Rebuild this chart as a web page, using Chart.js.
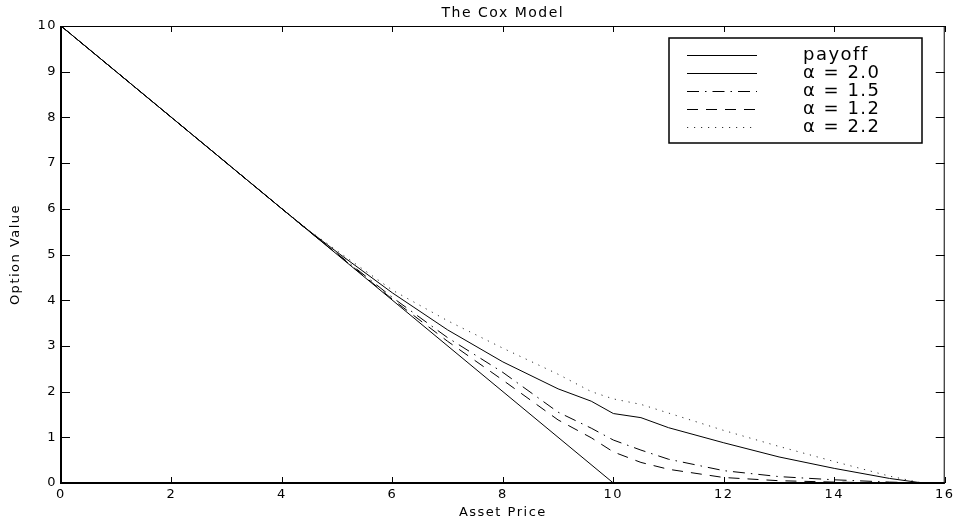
<!DOCTYPE html>
<html>
<head>
<meta charset="utf-8">
<title>The Cox Model</title>
<script src="https://cdn.jsdelivr.net/npm/chart.js@4.4.1/dist/chart.umd.min.js"></script>
<style>
  html, body { margin: 0; padding: 0; background: #fff; }
  #wrap { width: 957px; height: 521px; }
</style>
</head>
<body>
<div id="wrap"><canvas id="chart"></canvas></div>
<script>
// Valores leidos a ojo del grafico original (precio del activo vs valor de la opcion)
const TITLE = "The Cox Model";
const X_LABEL = "Asset Price";
const Y_LABEL = "Option Value";

const xTicks = [0, 2, 4, 6, 8, 10, 12, 14, 16];
const yTicks = [0, 1, 2, 3, 4, 5, 6, 7, 8, 9, 10];

const payoffPrice = [0, 10, 16];
const payoffValue = [10, 0, 0];

const price   = [0, 4, 4.5, 5, 6, 7, 8, 9, 9.6, 10, 10.5, 11, 12, 13, 14, 15, 15.6];
const alpha20 = [10, 6, 5.51, 5.05, 4.16, 3.35, 2.65, 2.06, 1.79, 1.52, 1.43, 1.21, 0.88, 0.57, 0.32, 0.1, 0];
const alpha15 = [10, 6, 5.5, 5.02, 4.06, 3.18, 2.42, 1.55, 1.2, 0.94, 0.72, 0.52, 0.27, 0.14, 0.07, 0.02, 0];
const alpha12 = [10, 6, 5.5, 5.01, 4.02, 3.1, 2.25, 1.38, 0.99, 0.68, 0.45, 0.3, 0.12, 0.05, 0.02, 0, 0];
const alpha22 = [10, 6, 5.52, 5.08, 4.22, 3.55, 2.95, 2.38, 2.0, 1.84, 1.72, 1.53, 1.15, 0.8, 0.47, 0.15, 0];

const labels = ["payoff", "\u03b1 = 2.0", "\u03b1 = 1.5", "\u03b1 = 1.2", "\u03b1 = 2.2"];

const FONT = "'DejaVu Sans', 'Liberation Sans', sans-serif";
const pts = (xs, ys) => xs.map((x, i) => ({ x, y: ys[i] }));

// estilos de linea tipo matlab
const STYLES = [
  { dash: [], color: "#000" },
  { dash: [], color: "#000" },
  { dash: [12, 6, 1.5, 6], color: "#000" },
  { dash: [11, 8], color: "#000" },
  { dash: [1.2, 5.8], color: "#333" },
];

const series = [
  pts(payoffPrice, payoffValue),
  pts(price, alpha20),
  pts(price, alpha15),
  pts(price, alpha12),
  pts(price, alpha22),
];

// marco, ticks hacia dentro, titulo y leyenda
const frame = {
  id: "frame",
  beforeDraw(chart) {
    chart.ctx.letterSpacing = "1.5px";
  },
  afterDatasetsDraw(chart) {
    const { ctx, chartArea: a, scales } = chart;
    ctx.save();
    ctx.strokeStyle = "#000";
    ctx.lineWidth = 1;
    ctx.beginPath();
    ctx.moveTo(a.left, a.top + 0.5);
    ctx.lineTo(a.right, a.top + 0.5);
    ctx.moveTo(a.right - 0.5, a.top);
    ctx.lineTo(a.right - 0.5, a.bottom);
    xTicks.forEach((v) => {
      const px = Math.round(scales.x.getPixelForValue(v)) + 0.5;
      ctx.moveTo(px, a.bottom); ctx.lineTo(px, a.bottom - 6);
      ctx.moveTo(px, a.top); ctx.lineTo(px, a.top + 6);
    });
    yTicks.forEach((v) => {
      const py = Math.round(scales.y.getPixelForValue(v)) + 0.5;
      ctx.moveTo(a.left, py); ctx.lineTo(a.left + 9, py);
      ctx.moveTo(a.right, py); ctx.lineTo(a.right - 9, py);
    });
    ctx.stroke();
    ctx.lineWidth = 2;
    ctx.beginPath();
    ctx.moveTo(a.left, a.top);
    ctx.lineTo(a.left, a.bottom);
    ctx.lineTo(a.right, a.bottom);
    ctx.stroke();

    // titulo
    ctx.fillStyle = "#000";
    ctx.font = "14px " + FONT;
    ctx.textAlign = "center";
    ctx.textBaseline = "middle";
    ctx.fillText(TITLE, (a.left + a.right) / 2, 13);

    // leyenda
    const bx = 669, by = 38, bw = 253, bh = 105;
    ctx.fillStyle = "#fff";
    ctx.fillRect(bx, by, bw, bh);
    ctx.lineWidth = 1.5;
    ctx.strokeRect(bx, by, bw, bh);
    ctx.font = "18px " + FONT;
    ctx.textAlign = "left";
    chart.data.datasets.forEach((ds, i) => {
      const y = 55 + i * 18;
      ctx.beginPath();
      ctx.setLineDash(ds.borderDash || []);
      ctx.strokeStyle = ds.borderColor;
      ctx.lineWidth = 1;
      ctx.moveTo(687, y + 0.5);
      ctx.lineTo(757, y + 0.5);
      ctx.stroke();
      ctx.setLineDash([]);
      ctx.fillStyle = "#000";
      ctx.fillText(ds.label, 803, y);
    });
    ctx.restore();
  },
};

new Chart(document.getElementById("chart"), {
  type: "line",
  data: {
    datasets: series.map((d, i) => ({
      label: labels[i],
      data: d,
      borderColor: STYLES[i].color,
      borderDash: STYLES[i].dash,
      borderWidth: 1,
      pointRadius: 0,
      tension: 0,
      fill: false,
    })),
  },
  options: {
    responsive: true,
    maintainAspectRatio: false,
    animation: false,
    layout: { padding: { top: 26, right: 12, left: 0, bottom: 0 } },
    plugins: {
      legend: { display: false },
      title: { display: false },
      tooltip: { enabled: false },
    },
    scales: {
      x: {
        type: "linear",
        min: xTicks[0],
        max: xTicks[xTicks.length - 1],
        ticks: { stepSize: xTicks[1] - xTicks[0], color: "#000", font: { family: FONT, size: 13 }, padding: 4, maxRotation: 0 },
        grid: { display: false, drawTicks: false },
        border: { display: false },
        title: { display: true, text: X_LABEL, color: "#000", font: { family: FONT, size: 13 }, padding: { top: 0, bottom: 1 } },
        afterFit: (s) => { s.height = 38; },
      },
      y: {
        type: "linear",
        min: yTicks[0],
        max: yTicks[yTicks.length - 1],
        ticks: { stepSize: yTicks[1] - yTicks[0], color: "#000", font: { family: FONT, size: 13 }, padding: 4 },
        grid: { display: false, drawTicks: false },
        border: { display: false },
        title: { display: true, text: Y_LABEL, color: "#000", font: { family: FONT, size: 13 }, padding: { top: 8, bottom: 0 } },
        afterFit: (s) => { s.width = 61; },
      },
    },
  },
  plugins: [frame],
});
</script>
</body>
</html>
